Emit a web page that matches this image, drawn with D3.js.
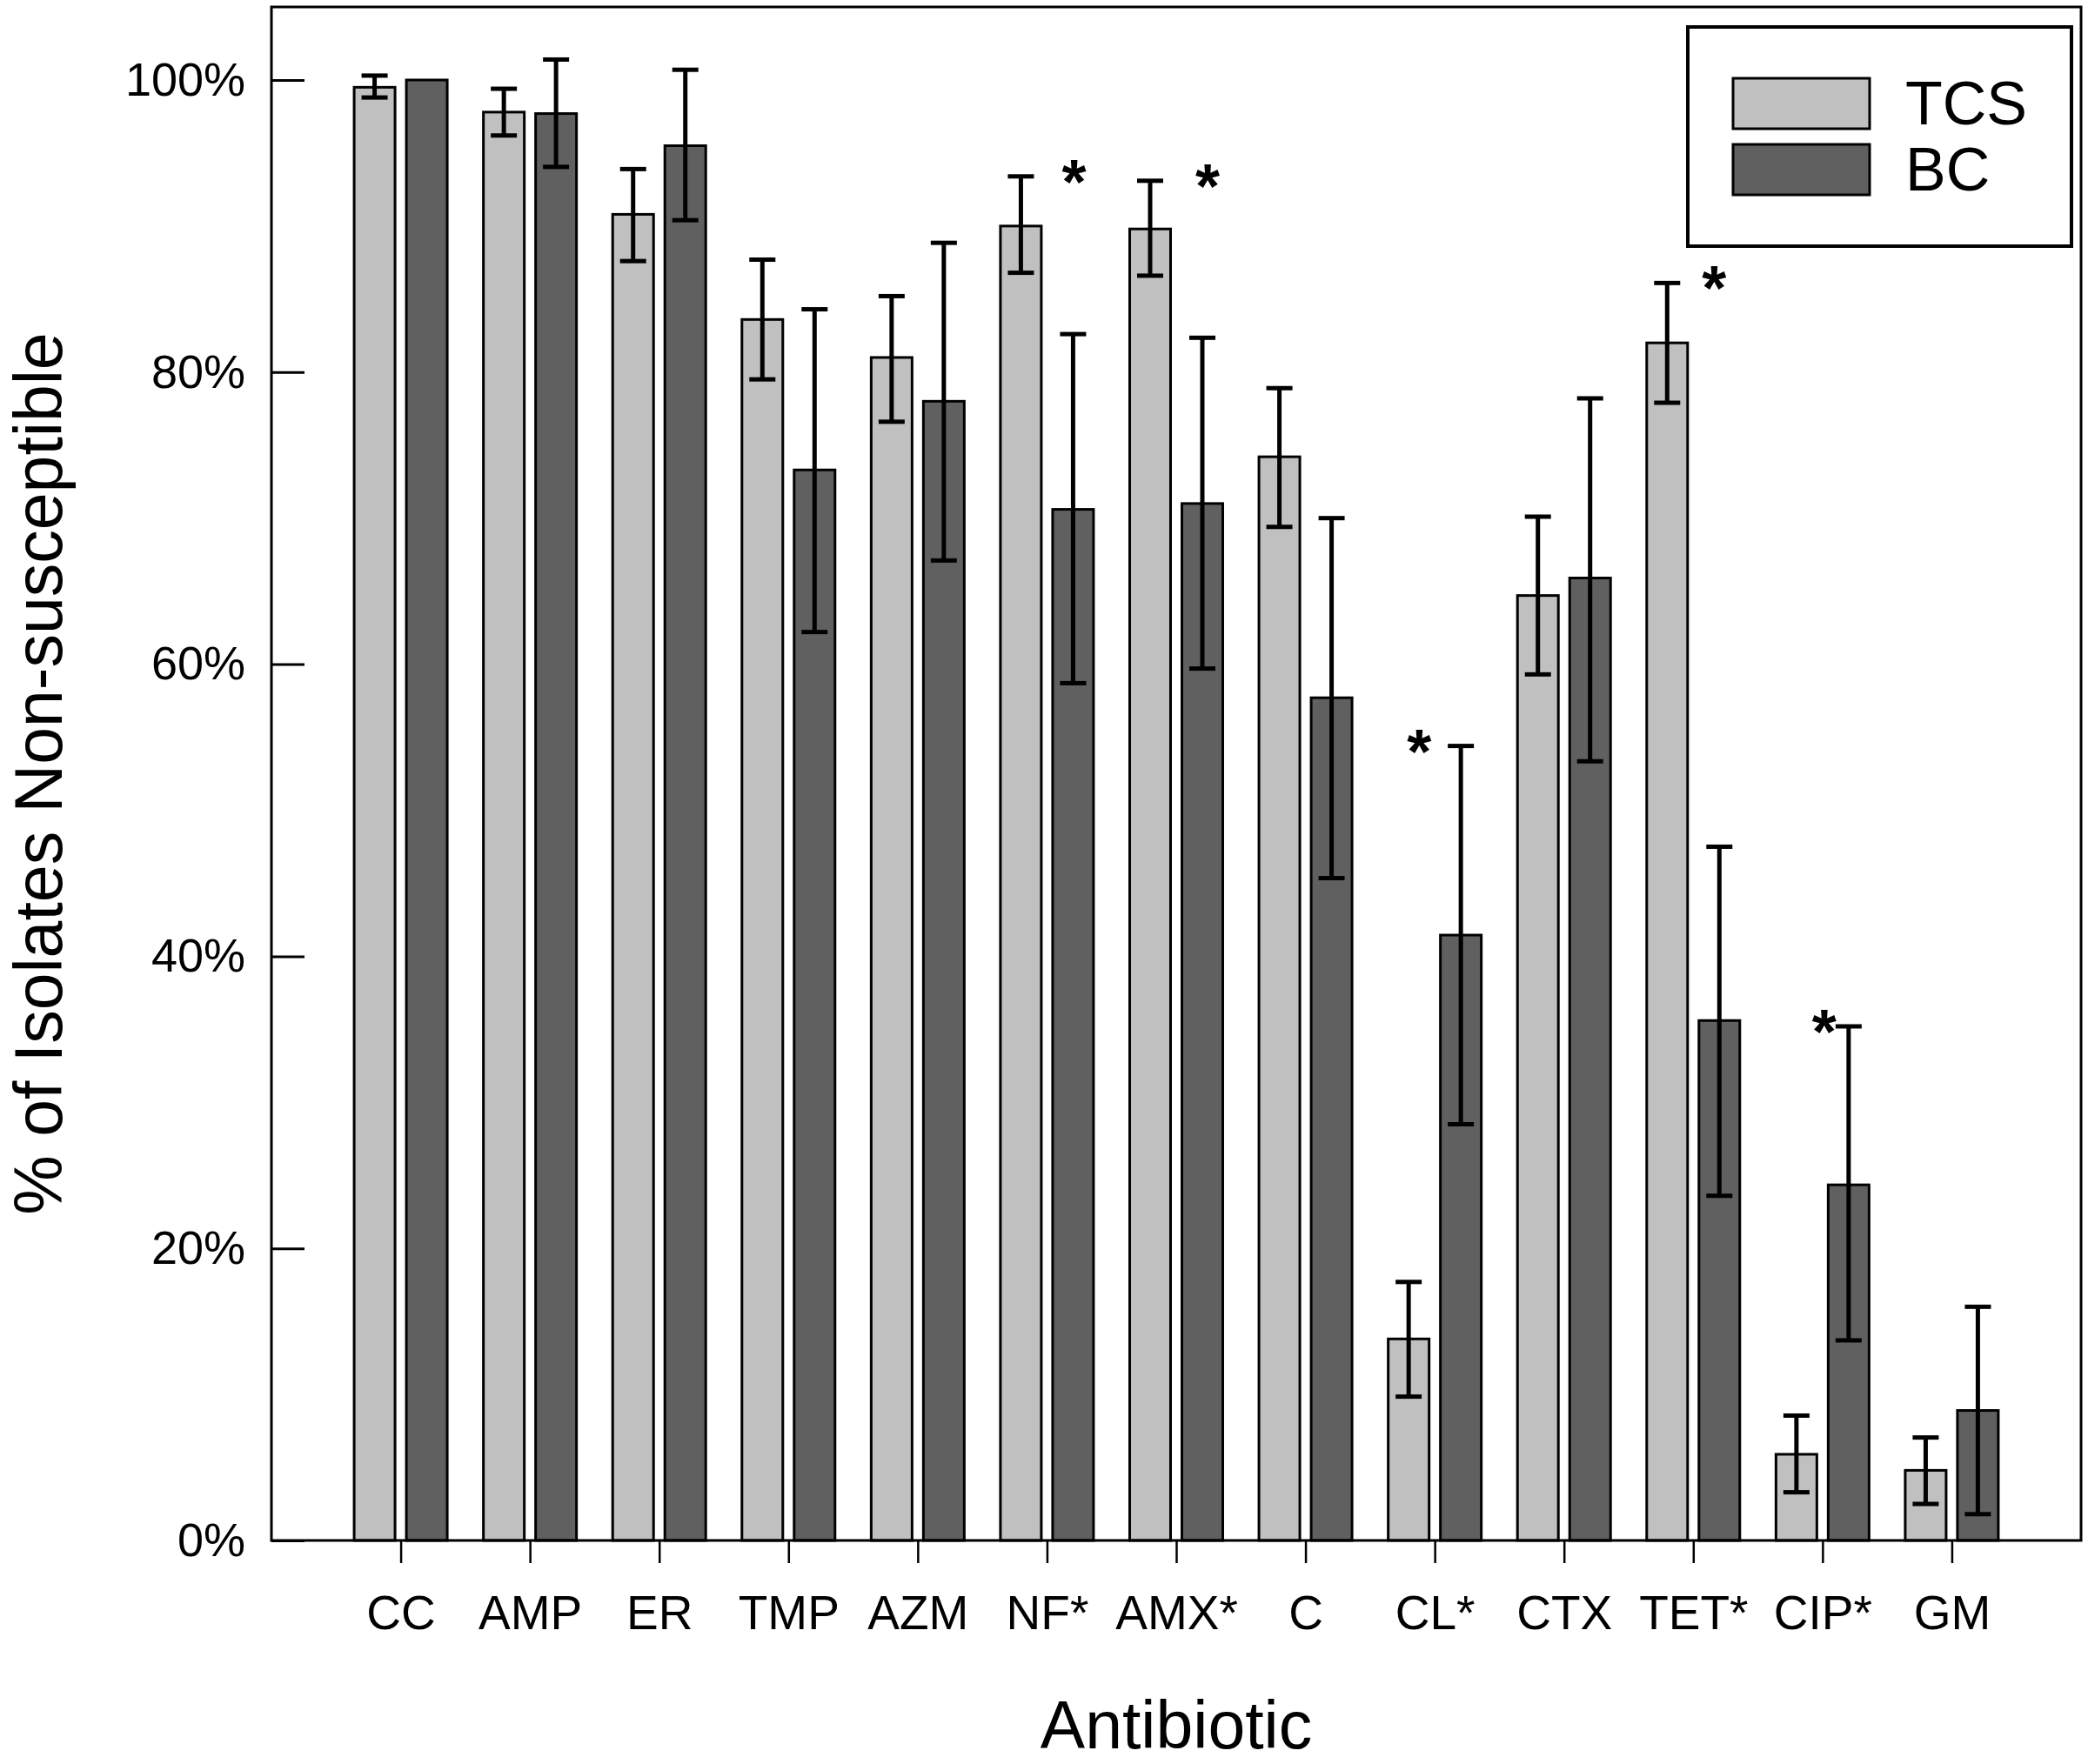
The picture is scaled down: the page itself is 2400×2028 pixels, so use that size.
<!DOCTYPE html>
<html>
<head>
<meta charset="utf-8">
<script src="https://cdn.jsdelivr.net/npm/d3@7"></script>
<style>
  html, body { margin: 0; padding: 0; background: #fff; }
  svg { display: block; }
  text { font-family: "Liberation Sans", Arial, sans-serif; fill: #000; }
</style>
</head>
<body>
<svg id="chart" width="2400" height="2028"></svg>
<script>
// ---------------- data ----------------
const categories = ["CC","AMP","ER","TMP","AZM","NF*","AMX*","C","CL*","CTX","TET*","CIP*","GM"];
const seriesNames = ["TCS","BC"];
const tcsValues = [99.5, 97.8, 90.8, 83.6, 81.0, 90.0, 89.8, 74.2, 13.8, 64.7, 82.0, 5.9, 4.8];
const tcsLow    = [98.8, 96.2, 87.6, 79.5, 76.6, 86.8, 86.6, 69.4,  9.85, 59.3, 77.9, 3.3, 2.5];
const tcsHigh   = [100.3, 99.4, 93.9, 87.7, 85.2, 93.4, 93.1, 78.9, 17.7, 70.1, 86.1, 8.55, 7.05];
const bcValues  = [100.0, 97.7, 95.5, 73.3, 78.0, 70.6, 71.0, 57.7, 41.45, 65.9, 35.6, 24.35, 8.9];
const bcLow     = [null, 94.05, 90.4, 62.2, 67.1, 58.7, 59.7, 45.35, 28.5, 53.35, 23.6, 13.7, 1.8];
const bcHigh    = [null, 101.4, 100.7, 84.3, 88.85, 82.6, 82.35, 70.0, 54.4, 78.2, 47.5, 35.2, 16.0];
const starred   = ["NF*","AMX*","CL*","TET*","CIP*"];
const yTickValues = [0, 20, 40, 60, 80, 100];
const yTickLabels = ["0%","20%","40%","60%","80%","100%"];
const xTitle = "Antibiotic";
const yTitle = "% of Isolates Non-susceptible";

// ---------------- layout ----------------
const L = 312, R = 2392, T = 8, B = 1771;
const colors = { TCS: "#c0c0c0", BC: "#606060" };
const starDx = { "NF*": 31, "AMX*": 36, "CL*": -18, "TET*": 24, "CIP*": 2 };

const svg = d3.select("#chart");

const x = d3.scalePoint().domain(categories).range([L, R]).padding(1);
const xSub = d3.scaleBand().domain(seriesNames).range([-55, 55]).paddingInner(1/6).paddingOuter(0);
const y = d3.scaleLinear().domain([0, 105]).range([B, T]);

const rows = categories.map((c, i) => ({
  cat: c,
  series: [
    { key: "TCS", v: tcsValues[i], lo: tcsLow[i], hi: tcsHigh[i] },
    { key: "BC",  v: bcValues[i],  lo: bcLow[i],  hi: bcHigh[i] }
  ]
}));

// bars
const groups = svg.append("g").selectAll("g").data(rows).join("g")
  .attr("transform", d => `translate(${x(d.cat)},0)`);

const sw = 3;
groups.selectAll("rect").data(d => d.series).join("rect")
  .attr("x", d => xSub(d.key) + sw/2)
  .attr("width", xSub.bandwidth() - sw)
  .attr("y", d => y(d.v))
  .attr("height", d => y(0) - y(d.v))
  .attr("fill", d => colors[d.key])
  .attr("stroke", "#000")
  .attr("stroke-width", sw);

// error bars
const eb = groups.selectAll("g.err").data(d => d.series.filter(s => s.lo != null)).join("g")
  .attr("class", "err")
  .attr("stroke", "#000")
  .attr("stroke-width", 5);
const cx = d => xSub(d.key) + xSub.bandwidth()/2;
eb.append("line").attr("x1", cx).attr("x2", cx).attr("y1", d => y(d.lo)).attr("y2", d => y(d.hi));
eb.append("line").attr("x1", d => cx(d) - 15).attr("x2", d => cx(d) + 15).attr("y1", d => y(d.hi)).attr("y2", d => y(d.hi));
eb.append("line").attr("x1", d => cx(d) - 15).attr("x2", d => cx(d) + 15).attr("y1", d => y(d.lo)).attr("y2", d => y(d.lo));

// stars
svg.append("g").selectAll("text").data(rows.filter(r => starred.includes(r.cat))).join("text")
  .attr("x", d => x(d.cat) + starDx[d.cat])
  .attr("y", d => y(d3.max(d.series, s => s.hi != null ? s.hi : s.v)) - 10 + 41)
  .attr("text-anchor", "middle")
  .attr("font-size", 72)
  .attr("font-weight", "bold")
  .text("*");

// y axis (ticks inward)
const yAxis = d3.axisLeft(y)
  .tickValues(yTickValues)
  .tickFormat((d, i) => yTickLabels[i])
  .tickSize(-38)
  .tickPadding(30);
const gy = svg.append("g").attr("transform", `translate(${L},0)`).call(yAxis);
gy.select(".domain").remove();
gy.selectAll(".tick line").attr("stroke", "#000").attr("stroke-width", 3);
gy.selectAll(".tick text").attr("font-size", 54).attr("font-family", "Liberation Sans, Arial, sans-serif").attr("fill", "#000");

// x axis (ticks outward)
const xAxis = d3.axisBottom(x).tickSize(26).tickPadding(37);
const gx = svg.append("g").attr("transform", `translate(0,${B})`).call(xAxis);
gx.select(".domain").remove();
gx.selectAll(".tick line").attr("stroke", "#000").attr("stroke-width", 2.5);
gx.selectAll(".tick text").attr("font-size", 55).attr("font-family", "Liberation Sans, Arial, sans-serif").attr("fill", "#000");

// frame
svg.append("rect")
  .attr("x", L).attr("y", T).attr("width", R - L).attr("height", B - T)
  .attr("fill", "none").attr("stroke", "#000").attr("stroke-width", 3);

// titles
svg.append("text")
  .attr("x", (L + R) / 2).attr("y", 2010)
  .attr("text-anchor", "middle").attr("font-size", 77)
  .text(xTitle);
svg.append("text")
  .attr("transform", `translate(71,${(T + B) / 2}) rotate(-90)`)
  .attr("text-anchor", "middle").attr("font-size", 77)
  .text(yTitle);

// legend
const lg = svg.append("g");
lg.append("rect").attr("x", 1940).attr("y", 31).attr("width", 441).attr("height", 252)
  .attr("fill", "#fff").attr("stroke", "#000").attr("stroke-width", 4);
const legRows = lg.selectAll("g.li").data(seriesNames).join("g").attr("class", "li")
  .attr("transform", (d, i) => `translate(0,${i * 76})`);
legRows.append("rect").attr("x", 1992).attr("y", 90).attr("width", 157).attr("height", 58)
  .attr("fill", d => colors[d]).attr("stroke", "#000").attr("stroke-width", 3);
legRows.append("text").attr("x", 2190).attr("y", 143).attr("font-size", 70).text(d => d);
</script>
</body>
</html>
